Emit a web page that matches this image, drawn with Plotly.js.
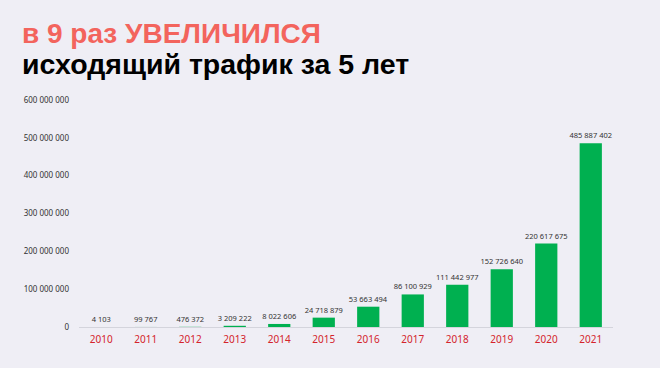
<!DOCTYPE html>
<html><head><meta charset="utf-8">
<script src="https://cdn.plot.ly/plotly-3.0.1.min.js"></script>
<style>html,body{margin:0;padding:0;background:#efeef5;}</style>
</head><body>
<div id="chart" style="width:660px;height:368px;"></div>
<script>
const years = ['2010','2011','2012','2013','2014','2015','2016','2017','2018','2019','2020','2021'];
const traffic = [4103, 99767, 476372, 3209222, 8022606, 24718879, 53663494, 86100929, 111442977, 152726640, 220617675, 485887402];
const titleLine1Plain = 'в 9 раз ';
const titleLine1Caps = 'УВЕЛИЧИЛСЯ';
const titleLine2 = 'исходящий трафик за 5 лет';

const W = 660, H = 368;
const m = {l: 79, r: 47, t: 100, b: 41};
const pw = W - m.l - m.r, ph = H - m.t - m.b;
const px = x => (x - m.l) / pw;
const py = y => (H - m.b - y) / ph;

const trace = {
  type: 'bar',
  x: years,
  y: traffic,
  marker: {color: '#00b050'},
  texttemplate: '%{y:,d}',
  textposition: 'outside',
  constraintext: 'none',
  textfont: {family: 'Noto Sans, sans-serif', size: 7.5, color: '#333333'},
  cliponaxis: false,
  hoverinfo: 'none'
};

const layout = {
  width: W, height: H,
  margin: m,
  paper_bgcolor: '#efeef5',
  plot_bgcolor: '#efeef5',
  separators: ', ',
  bargap: 0.5,
  showlegend: false,
  xaxis: {
    type: 'category',
    showline: true, linecolor: '#d4d4dc', linewidth: 1,
    ticks: '', showgrid: false,
    ticklabelstandoff: 3,
    tickfont: {family: 'Noto Sans, sans-serif', size: 10, color: '#d4232c'}
  },
  yaxis: {
    range: [0, 600000000],
    dtick: 100000000,
    tickformat: ',d',
    showgrid: false, zeroline: false, showline: false,
    ticks: '',
    ticklabelstandoff: 9,
    tickfont: {family: 'Noto Sans, sans-serif', size: 8, color: '#333333'}
  },
  annotations: [
    {xref: 'paper', yref: 'paper', x: px(20), y: py(34), xanchor: 'left', yanchor: 'middle',
     showarrow: false,
     text: '<b>' + titleLine1Plain + titleLine1Caps + '</b>',
     font: {family: 'Liberation Sans, Arial, sans-serif', size: 28, color: '#f3645d'}},
    {xref: 'paper', yref: 'paper', x: px(20), y: py(64), xanchor: 'left', yanchor: 'middle',
     showarrow: false,
     text: '<b>' + titleLine2 + '</b>',
     font: {family: 'Liberation Sans, Arial, sans-serif', size: 28.5, color: '#000000'}}
  ]
};

Plotly.newPlot('chart', [trace], layout, {staticPlot: true, displayModeBar: false});
</script>
</body></html>
